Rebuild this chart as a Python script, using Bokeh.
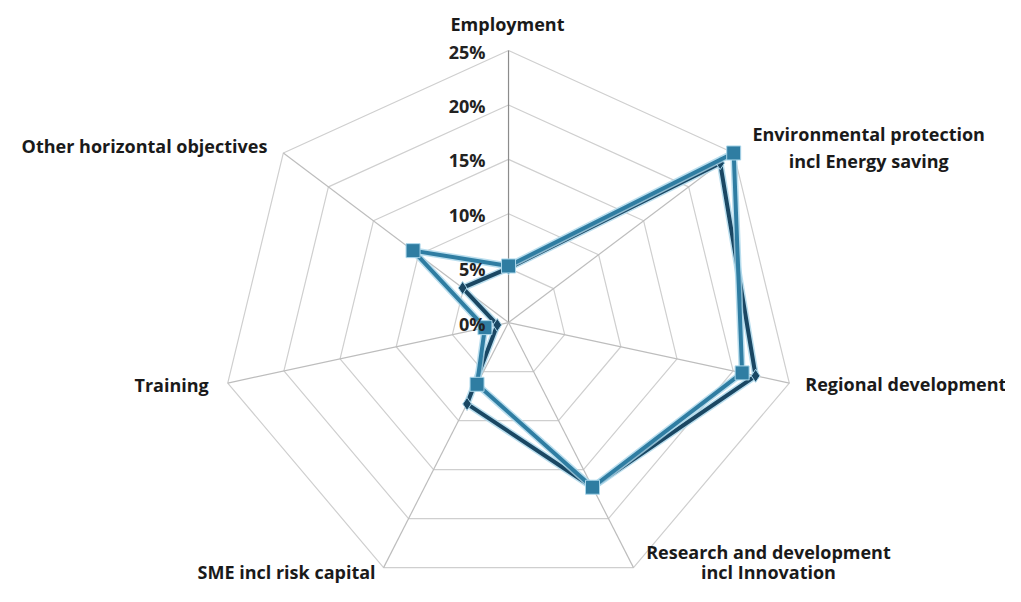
import math
from bokeh.plotting import figure
from bokeh.models import Range1d, ColumnDataSource
from bokeh.core.properties import value
from bokeh.embed import file_html
from bokeh.resources import INLINE

categories = [
    "Employment",
    "Environmental protection\nincl Energy saving",
    "Regional development",
    "Research and development\nincl Innovation",
    "SME incl risk capital",
    "Training",
    "Other horizontal objectives",
]
series_dark = [5.0, 23.5, 22.0, 16.8, 8.3, 1.0, 5.1]
series_light = [5.2, 25.0, 20.8, 16.8, 6.3, 2.1, 10.6]
ring_values = [5, 10, 15, 20, 25]
tick_values = [0, 5, 10, 15, 20, 25]
tick_labels = ["0%", "5%", "10%", "15%", "20%", "25%"]
max_value = 25

n = len(categories)
angles = [i * 2 * math.pi / n for i in range(n)]


def polar(vals):
    xs = [v * math.sin(a) for v, a in zip(vals, angles)]
    ys = [v * math.cos(a) for v, a in zip(vals, angles)]
    return xs, ys


W, H = 1005, 586
p = figure(width=W, height=H, output_backend="svg", toolbar_location=None,
           x_range=Range1d(-44.10, 43.14), y_range=Range1d(-24.26, 29.60),
           min_border=0, outline_line_color=None)
p.axis.visible = False
p.grid.visible = False
p.background_fill_color = "white"
p.border_fill_color = "white"

# rings
for r in ring_values:
    xs, ys = polar([r] * n)
    p.line(xs + [xs[0]], ys + [ys[0]], line_color="#CFCFCF", line_width=1.2)

# spokes
for i in range(n):
    xs, ys = polar([max_value] * n)
    col = "#8C8C8C" if i == 0 else "#BDBDBD"
    p.line([0, xs[i]], [0, ys[i]], line_color=col, line_width=1.2)


def draw_series(vals, color, marker, size):
    xs, ys = polar(vals)
    xs_c, ys_c = xs + [xs[0]], ys + [ys[0]]
    p.line(xs_c, ys_c, line_color="#A9D6EA", line_width=7, line_alpha=0.8, line_join="round")
    p.line(xs_c, ys_c, line_color=color, line_width=4, line_join="round")
    p.scatter(xs, ys, marker=marker, size=size, fill_color=color, line_color="#A9D6EA", line_width=1)


draw_series(series_dark, "#1A4763", "diamond", 13)
draw_series(series_light, "#2F7DA2", "square", 14)

FONT = value("Open Sans")

# tick labels
tsrc = ColumnDataSource(dict(x=[0] * len(tick_values), y=tick_values, t=tick_labels))
p.text(x="x", y="y", text="t", source=tsrc, text_font=FONT,
       text_font_style="bold", text_font_size="18px", text_color="#222222",
       text_align="right", text_baseline="middle", x_offset=-23, y_offset=1)

# category labels
vx, vy = polar([max_value] * n)
label_specs = [
    (0, ["Employment"], "center", -1, -27, 27),
    (1, ["Environmental protection", "incl Energy saving"], "center", 135, -19, 27),
    (2, ["Regional development"], "left", 16, 1, 27),
    (3, ["Research and development", "incl Innovation"], "center", 135, -16, 20),
    (4, ["SME incl risk capital"], "right", -8, 4, 27),
    (5, ["Training"], "right", -19, 2, 27),
    (6, ["Other horizontal objectives"], "right", -16, -7, 27),
]
for idx, lines, align, dx, dy, gap in label_specs:
    for k, line in enumerate(lines):
        p.text(x=[vx[idx]], y=[vy[idx]], text=[line], text_font=FONT,
               text_font_style="bold", text_font_size="18px", text_color="#1A1A1A",
               text_align=align, text_baseline="middle",
               x_offset=dx, y_offset=dy + k * gap)

open("out.html", "w").write(file_html(p, INLINE))
